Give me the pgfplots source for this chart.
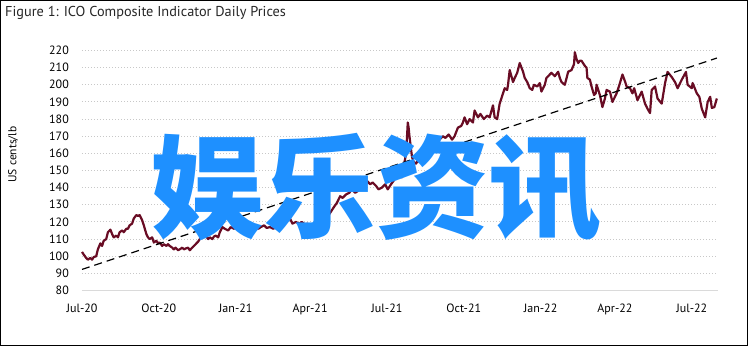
\documentclass[border=0pt]{standalone}
\usepackage{fontspec}
\setmainfont{PT Sans}
\newfontfamily\cjk{Noto Sans CJK SC}
\usepackage{pgfplots}
\pgfplotsset{compat=1.18}
\usepackage{pgfplotstable}
\definecolor{maroon}{RGB}{105,12,36}
\definecolor{wmblue}{RGB}{30,144,255}
\definecolor{gridgrey}{RGB}{200,200,200}
\definecolor{basegrey}{RGB}{218,218,218}

\pgfplotstableread{
day val
0 102.5
2 101
5 99
7 98
10 99
12 98
14 99.5
17 100
19 104
22 107.5
24 106
26 109
29 110
31 114
34 115.5
36 113
38 111
41 112
43 111
45 114
48 115
50 114
53 116
55 116
57 118
60 119
62 122
65 124
67 123.5
69 124
72 121
74 118
77 113
79 111
81 110
84 111
86 108
89 109
91 107.5
93 108
96 106
98 107
101 106
103 107
105 106
108 105
110 104
112 105
115 103.5
117 104
120 105
122 104
124 104.5
127 105
129 103.5
132 105
134 106
136 107
139 108.5
141 110
144 111
146 113
148 112
151 110
153 111
156 110
158 111.5
160 112
163 111
165 114
168 117
171 116
175 115
178 117
182 116
185 117
189 116
193 116.5
196 118
200 116
203 117
207 117
211 116
214 117
218 118
221 116.5
225 117
229 116
232 117
236 118
239 118
243 119
246 121
249 122
252 119
256 120
260 119
263 120
267 118.5
270 119
274 117
278 119
281 118
285 117
288 119
292 121
294 123
298 126
302 129
305 131
309 135
312 134
316 136
320 137
323 139
327 137
330 138
334 140
337 141
341 144
345 142
348 143
352 141
355 139
359 140
363 142
366 139
370 142
373 144
377 147
381 149
383 146
385 152
388 160
390 178
391 175
392 170
395 158
397 155
400 154
402 156
404 155
408 158
412 160
415 157
419 161
422 163
426 168
428 168
432 170
435 169
439 171
443 168
446 170
450 175
454 176
456 178
458 181
461 177
464 180
468 178
470 185
474 181
477 183
481 180
485 182
488 181
492 188
494 181
497 180
500 189
504 195
506 198
509 197
510 200
512 208.6
516 201.6
518 204
521 207
524 212.7
528 207.6
530 204
533 201.6
536 198
539 197
541 200
545 199
548 201
550 196
554 200
556 204
560 206
562 207
566 205
570 207.6
572 204
574 201.6
578 200
582 207.6
586 208.6
589 212
590 219
592 215
594 212.7
596 214
598 214
602 211
604 210
605 204
608 203
610 199
613 194
615 195
616 200
620 194
623 187
626 192
628 197
632 196
635 190
640 195
644 201
647 206
650 202
652 199
656 198
659 195
661 198
665 191
670 196
674 189
677 186
680 183.5
682 197
686 199
689 192
694 189
698 201
701 207.5
706 204.5
710 201.5
713 198
718 203
723 207.5
725 200
730 198
731 201
736 195
739 193
742 186
746 181
749 190
752 193
754 186.5
757 187
760 192
}\prices

\pgfplotstableread{
day val
0 92.3
760 215.6
}\trend

\begin{document}
\begin{tikzpicture}[x=1pt,y=1pt]
\path[use as bounding box] (0,0) rectangle (748,346);
\draw[black, line width=1pt] (0.5,0.5) rectangle (747.5,345.5);
\node[anchor=west, inner sep=0pt, font=\fontsize{14.3}{16}\selectfont, text=black!85] at (5,333.5) {Figure 1: ICO Composite Indicator Daily Prices};
\node[rotate=90, inner sep=0pt, font=\fontsize{11.5}{13}\selectfont] at (13,191.5) {US cents/lb};
\begin{axis}[
  at={(82pt,55.5pt)}, anchor=south west,
  scale only axis, width=635.7pt, height=240pt,
  xmin=0, xmax=761, ymin=80, ymax=220,
  axis line style={draw=none},
  major tick style={draw=none},
  ytick={90,100,...,220},
  extra y ticks={80},
  extra y tick style={grid style={solid, basegrey, line width=1.6pt}},
  ymajorgrids,
  grid style={gridgrey, line width=0.9pt, dash pattern=on 1pt off 2pt},
  xtick={0,92,184,273,365,457,549,638,730},
  xticklabels={Jul-20,Oct-20,Jan-21,Apr-21,Jul-21,Oct-21,Jan-22,Apr-22,Jul-22},
  /pgf/number format/assume math mode=true,
  yticklabel style={font=\fontsize{12}{14}\selectfont, inner sep=0pt, anchor=east},
  xticklabel style={font=\fontsize{12}{14}\selectfont, inner sep=0pt, anchor=north},
  yticklabel shift=13pt,
  xticklabel shift=13pt,
  clip=false,
]
\addplot[maroon, line width=2.2pt, line join=round, mark=none] table[x=day,y=val] {\prices};
\addplot[black, line width=1.2pt, dash pattern=on 8pt off 5pt, mark=none] table[x=day,y=val] {\trend};
\end{axis}
\node[inner sep=0pt, text=wmblue, font=\cjk\bfseries\fontsize{113}{113}\selectfont] at (376,158) {娱乐资讯};
\end{tikzpicture}
\end{document}
